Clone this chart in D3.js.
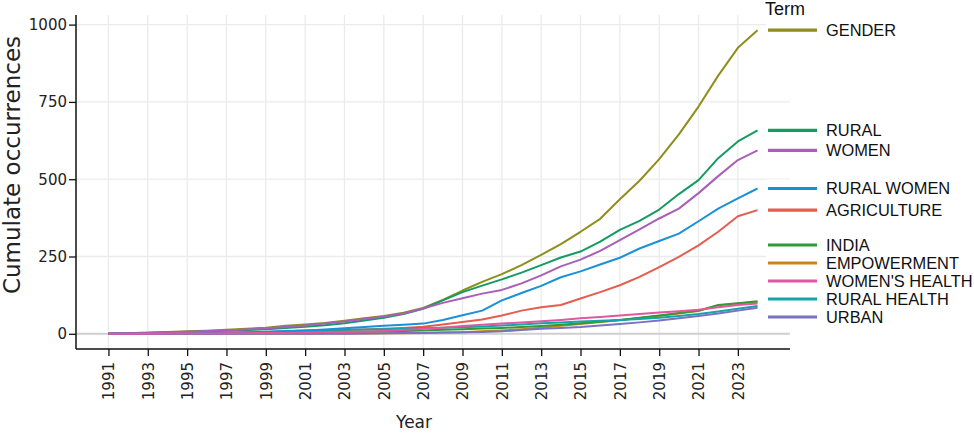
<!DOCTYPE html>
<html>
<head>
<meta charset="utf-8">
<script src="https://cdn.jsdelivr.net/npm/d3@7"></script>
<style>
  body { margin: 0; background: #fff; }
  .tick text { font-family: "DejaVu Sans", sans-serif; font-size: 15px; fill: #222; }
  .legend text { font-family: "Liberation Sans", Arial, sans-serif; fill: #111; }
</style>
</head>
<body>
<div id="chart"></div>
<script>
	// Years and cumulative counts per term
	var years = d3.range(1991, 2025);

	var terms = ["AGRICULTURE", "EMPOWERMENT", "GENDER", "INDIA", "RURAL",
	             "RURAL HEALTH", "RURAL WOMEN", "URBAN", "WOMEN", "WOMEN'S HEALTH"];

	var colors = ["#e65c4f", "#c9841a", "#8e8e1c", "#2f9a36", "#129c62",
	              "#12a6a8", "#1a90db", "#7872c2", "#a75fb8", "#e2579f"];

	var agriculture = [0,0,1,1,2,2,3,4,5,6,8,10,12,14,16,19,23,30,38,46,59,75,86,93,114,135,157,184,216,249,286,330,380,400];
	var empowerment = [0,0,0,0,0,0,0,0,0,0,0,1,1,1,2,2,3,4,5,8,11,15,20,26,32,38,44,51,58,66,74,92,98,103];
	var gender      = [0,2,4,6,8,10,13,16,20,26,30,35,42,50,58,68,84,110,140,168,193,222,255,290,330,372,435,495,565,645,735,835,925,982];
	var india       = [0,0,0,1,1,1,2,2,3,3,4,5,6,7,8,9,11,13,15,17,19,22,25,29,34,39,45,52,59,67,75,93,99,105];
	var rural       = [0,1,3,4,6,8,10,12,15,19,23,28,34,43,52,64,81,108,135,156,176,198,222,247,266,298,336,365,402,452,497,568,622,658];
	var ruralHealth = [0,0,1,1,2,3,4,5,7,9,11,12,13,14,15,17,19,20,21,24,27,30,34,37,40,42,45,48,52,58,64,72,81,90];
	var ruralWomen  = [0,0,1,1,2,2,3,4,6,8,11,14,18,22,26,29,33,45,60,75,108,132,155,183,202,224,246,276,300,324,364,405,438,470];
	var urban       = [0,0,0,0,0,0,0,0,0,0,0,0,0,1,2,3,3,4,5,6,8,12,16,19,22,27,32,37,43,50,58,66,75,84];
	var women       = [0,1,3,5,7,9,11,14,18,22,27,33,40,48,56,66,82,100,115,130,142,163,189,218,240,268,303,338,373,405,455,510,562,593];
	var womensHealth= [0,0,0,1,1,1,2,2,3,3,4,5,6,7,9,12,16,20,25,29,33,37,41,45,50,54,59,64,69,73,78,86,93,98];

	var xTicks = d3.range(1991, 2024, 2);
	var yTicks = [0, 250, 500, 750, 1000];

	var values = [agriculture, empowerment, gender, india, rural,
	              ruralHealth, ruralWomen, urban, women, womensHealth];

	var series = terms.map(function(t, i) {
		return {
			term: t,
			color: colors[i],
			points: years.map(function(y, j) { return {year: y, value: values[i][j]}; })
		};
	});

	//Setting up the canvas dimensions
	var svgWidth = 974;
	var svgHeight = 433;
	var plot = {left: 76, right: 790, top: 15, bottom: 349};

	var svg = d3.select("#chart").append("svg")
			.attr("width", svgWidth)
			.attr("height", svgHeight);

	svg.append("rect").attr("width", svgWidth).attr("height", svgHeight).attr("fill", "#fff");

	//Defining the scales (5% padding on both ends)
	var maxVal = d3.max(values, function(v) { return d3.max(v); });
	var xPad = (years[years.length - 1] - years[0]) * 0.05;
	var yPad = maxVal * 0.05;

	var x = d3.scaleLinear()
		.domain([years[0] - xPad, years[years.length - 1] + xPad])
		.range([plot.left, plot.right]);

	var y = d3.scaleLinear()
		.domain([-yPad, maxVal + yPad])
		.range([plot.bottom, plot.top]);

	// Grid lines
	var grid = svg.append("g");
	grid.selectAll(".vgrid").data(xTicks).enter().append("line")
		.attr("x1", function(d) { return x(d); })
		.attr("x2", function(d) { return x(d); })
		.attr("y1", plot.top).attr("y2", plot.bottom)
		.attr("stroke", "#ebebeb").attr("stroke-width", 1.3);
	grid.selectAll(".hgrid").data(yTicks.filter(function(d) { return d !== 0; })).enter().append("line")
		.attr("x1", plot.left).attr("x2", plot.right)
		.attr("y1", function(d) { return y(d); })
		.attr("y2", function(d) { return y(d); })
		.attr("stroke", "#ebebeb").attr("stroke-width", 1.3);
	// zero line
	grid.append("line")
		.attr("x1", plot.left).attr("x2", plot.right)
		.attr("y1", y(0)).attr("y2", y(0))
		.attr("stroke", "#cfcfcf").attr("stroke-width", 2);

	// Axes
	var xAxis = d3.axisBottom(x).tickValues(xTicks).tickFormat(d3.format("d")).tickSize(7).tickPadding(6);
	var yAxis = d3.axisLeft(y).tickValues(yTicks).tickFormat(d3.format("d")).tickSize(7).tickPadding(2);

	var gx = svg.append("g")
		.attr("transform", "translate(0," + plot.bottom + ")")
		.call(xAxis);
	gx.select(".domain").attr("d", "M" + plot.left + ",0H" + plot.right).attr("stroke", "#111").attr("stroke-width", 1.5);
	gx.selectAll(".tick line").attr("stroke", "#111").attr("stroke-width", 1.3);
	gx.selectAll(".tick text")
		.attr("transform", "rotate(-90)")
		.attr("x", -13).attr("y", 0).attr("dy", "0.35em")
		.style("text-anchor", "end");

	var gy = svg.append("g")
		.attr("transform", "translate(" + plot.left + ",0)")
		.call(yAxis);
	gy.select(".domain").attr("d", "M0," + plot.top + "V" + plot.bottom).attr("stroke", "#111").attr("stroke-width", 1.5);
	gy.selectAll(".tick line").attr("stroke", "#111").attr("stroke-width", 1.3);

	// Axis titles
	svg.append("text")
		.attr("x", 414).attr("y", 428)
		.attr("text-anchor", "middle")
		.style("font-family", "DejaVu Sans, sans-serif").style("font-size", "17px").style("fill", "#222")
		.text("Year");

	svg.append("text")
		.attr("transform", "translate(20,165) rotate(-90)")
		.attr("text-anchor", "middle")
		.style("font-family", "DejaVu Sans, sans-serif").style("font-size", "23px").style("fill", "#222")
		.text("Cumulate occurrences");

	// Lines
	var line = d3.line()
		.x(function(d) { return x(d.year); })
		.y(function(d) { return y(d.value); });

	svg.append("g").selectAll("path").data(series).enter().append("path")
		.attr("d", function(d) { return line(d.points); })
		.attr("fill", "none")
		.attr("stroke", function(d) { return d.color; })
		.attr("stroke-width", 2)
		.attr("stroke-linejoin", "round");

	// Legend placed at the end value of each line, overlaps pushed apart
	var gap = 18, maxY = 317;
	var entries = series.map(function(s) {
		return {s: s, target: y(s.points[s.points.length - 1].value)};
	}).sort(function(a, b) { return a.target - b.target; });

	var clusters = entries.map(function(e) { return {items: [e]}; });
	function layout(c) {
		var mean = d3.mean(c.items, function(e) { return e.target; });
		c.top = mean - (c.items.length - 1) * gap / 2;
		c.bottom = c.top + (c.items.length - 1) * gap;
	}
	clusters.forEach(layout);
	var merged = true;
	while (merged) {
		merged = false;
		for (var i = 0; i < clusters.length - 1; i++) {
			if (clusters[i].bottom + gap > clusters[i + 1].top) {
				clusters[i].items = clusters[i].items.concat(clusters[i + 1].items);
				clusters.splice(i + 1, 1);
				layout(clusters[i]);
				merged = true;
				break;
			}
		}
	}
	var last = clusters[clusters.length - 1];
	if (last.bottom > maxY) { var sh = last.bottom - maxY; last.top -= sh; last.bottom -= sh; }
	clusters.forEach(function(c) {
		c.items.forEach(function(e, k) { e.pos = c.top + k * gap; });
	});

	var legend = svg.append("g").attr("class", "legend");
	legend.append("text")
		.attr("x", 765).attr("y", 15)
		.style("font-size", "18px")
		.text("Term");

	var items = legend.selectAll(".item").data(entries).enter().append("g")
		.attr("transform", function(d) { return "translate(766," + d.pos + ")"; });
	items.append("rect")
		.attr("x", 0).attr("y", -gap / 2).attr("width", 208).attr("height", gap)
		.attr("fill", "#fff");
	items.append("line")
		.attr("x1", 2).attr("x2", 51).attr("y1", 0).attr("y2", 0)
		.attr("stroke", function(d) { return d.s.color; })
		.attr("stroke-width", 3.2);
	items.append("text")
		.attr("x", 60).attr("y", 0).attr("dy", "0.36em")
		.style("font-size", "16.4px")
		.text(function(d) { return d.s.term; });
</script>
</body>
</html>
